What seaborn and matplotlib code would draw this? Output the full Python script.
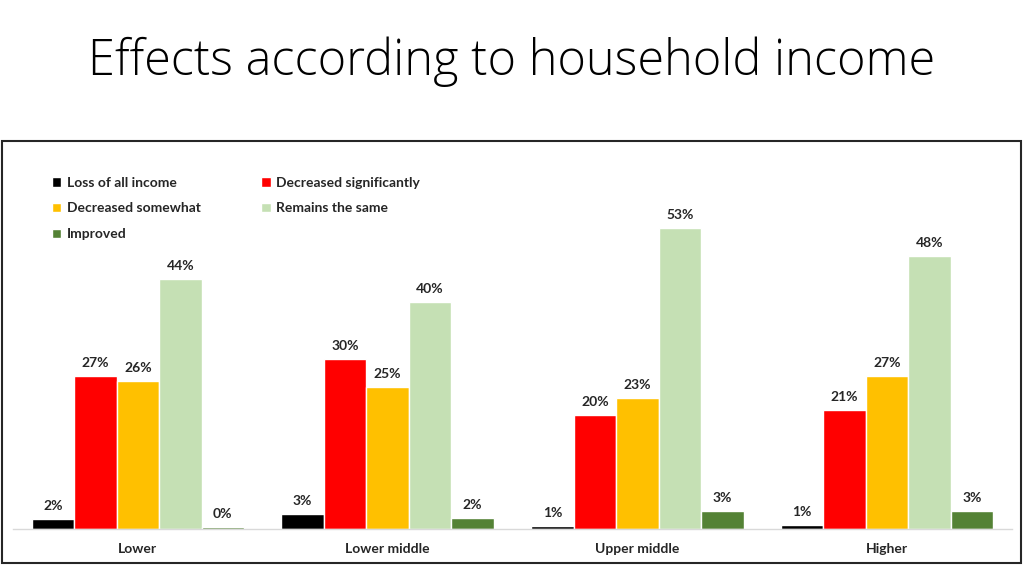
import seaborn as sns
import matplotlib.pyplot as plt
import pandas as pd
from matplotlib.patches import Rectangle

# data
groups = ["Lower", "Lower middle", "Upper middle", "Higher"]
effects = ["Loss of all income", "Decreased significantly", "Decreased somewhat",
           "Remains the same", "Improved"]
loss_all = [1.8, 2.6, 0.6, 0.7]
decreased_sig = [27, 30, 20, 21]
decreased_some = [26, 25, 23, 27]
remains = [44, 40, 53, 48]
improved = [0.4, 1.9, 3.2, 3.1]
colors = ["#000000", "#FF0000", "#FFC000", "#C5E0B4", "#548235"]

series = [loss_all, decreased_sig, decreased_some, remains, improved]
rows = []
for eff, vals in zip(effects, series):
    for g, v in zip(groups, vals):
        rows.append({"group": g, "effect": eff, "value": v})
df = pd.DataFrame(rows)

sns.set_style("white")
plt.rcParams['font.family'] = ['Lato', 'DejaVu Sans']

fig = plt.figure(figsize=(10.24, 5.66), dpi=100)
ax = fig.add_axes([13 / 1024, 1 - 529 / 566, 999 / 1024, (529 - 188) / 566])

sns.barplot(data=df, x="group", y="value", hue="effect", order=groups,
            hue_order=effects, palette=colors, width=0.85, ax=ax, saturation=1,
            edgecolor="white", linewidth=1, errorbar=None)

for cont in ax.containers:
    ax.bar_label(cont, labels=[f"{v:.0f}%" for v in cont.datavalues],
                 padding=5, fontsize=10, fontweight="bold", color="#262626")

ax.set_ylim(0, 60)
ax.set_xlim(-0.5, 3.5)
ax.set_xlabel("")
ax.set_ylabel("")
ax.set_yticks([])
ax.tick_params(axis="x", length=0, pad=10, labelsize=10)
for lab in ax.get_xticklabels():
    lab.set_fontweight("bold")
    lab.set_color("#262626")
for s in ["top", "right", "left"]:
    ax.spines[s].set_visible(False)
ax.spines["bottom"].set_color("#D9D9D9")
ax.spines["bottom"].set_linewidth(1)
ax.patch.set_alpha(0)

# row-wise legend order like the original
handles, labels = ax.get_legend_handles_labels()
order = [0, 2, 4, 1, 3]
ax.get_legend().remove()
leg = fig.legend([handles[i] for i in order], [labels[i] for i in order], ncol=2,
                 loc="upper left", bbox_to_anchor=(39 / 1024, 1 - 164 / 566),
                 frameon=False, handlelength=0.7, handleheight=0.7, handletextpad=0.4,
                 columnspacing=4.35, labelspacing=1.0, prop={"weight": "bold", "size": 10})
for t in leg.get_texts():
    t.set_color("#262626")

fig.patches.append(Rectangle((2 / 1024, 1 - 563 / 566), 1019 / 1024, 422 / 566,
                             transform=fig.transFigure, fill=False,
                             edgecolor="#262626", linewidth=1.5))

fig.text(0.5, 1 - 62 / 566, "Effects according to household income", ha="center",
         va="center", fontsize=35, fontweight="light", family=["Open Sans", "DejaVu Sans"],
         color="#000000")

fig.savefig("out.png", dpi=100)
